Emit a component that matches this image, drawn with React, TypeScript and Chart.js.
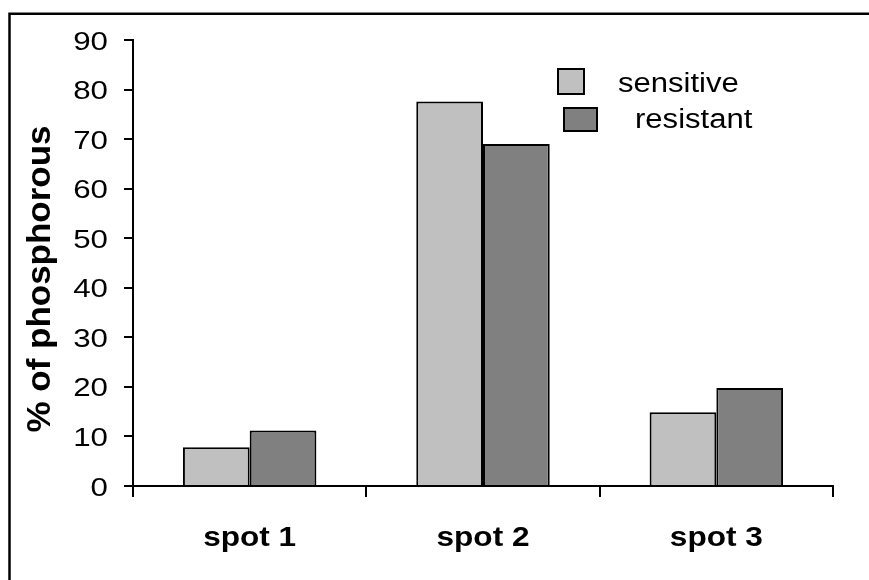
import React, { useEffect, useRef } from "react";
import { Chart, registerables } from "chart.js";

Chart.register(...registerables);

const categories = ["spot 1", "spot 2", "spot 3"];
const seriesNames = ["sensitive", "resistant"];
const sensitive = [7.8, 77.6, 14.9];
const resistant = [11.2, 69.0, 19.8];
const yMin = 0;
const yMax = 90;
const yStep = 10;

const FAMILY = "'Liberation Sans', Arial, Helvetica, sans-serif";
const LIGHT = "#C0C0C0";
const DARK = "#808080";

function drawText(
  ctx: CanvasRenderingContext2D,
  text: string,
  x: number,
  y: number,
  font: string,
  sx: number,
  align: CanvasTextAlign,
  baseline: CanvasTextBaseline,
  rot = 0
) {
  ctx.save();
  ctx.translate(x, y);
  if (rot) ctx.rotate(rot);
  ctx.scale(sx, 1);
  ctx.font = font;
  ctx.fillStyle = "#000";
  ctx.textAlign = align;
  ctx.textBaseline = baseline;
  ctx.fillText(text, 0, 0);
  ctx.restore();
}

const decorPlugin = {
  id: "decor",
  beforeDraw(chart: any) {
    const ctx = chart.ctx as CanvasRenderingContext2D;
    ctx.save();
    ctx.fillStyle = "#fff";
    ctx.fillRect(0, 0, chart.width, chart.height);
    ctx.strokeStyle = "#000";
    ctx.lineWidth = 2.5;
    ctx.beginPath();
    ctx.moveTo(9.5, chart.height + 2);
    ctx.lineTo(9.5, 13.8);
    ctx.lineTo(chart.width + 2, 13.8);
    ctx.stroke();
    ctx.restore();
  },
  afterDraw(chart: any) {
    const ctx = chart.ctx as CanvasRenderingContext2D;
    const ys = chart.scales.y;
    const xs = chart.scales.x;
    // y tick labels
    ys.ticks.forEach((t: any) => {
      const py = ys.getPixelForValue(t.value);
      drawText(ctx, String(t.value), 108, py + 9.5, `26.5px ${FAMILY}`, 1.18, "right", "alphabetic");
    });
    // x labels
    categories.forEach((c, i) => {
      const px = xs.getPixelForValue(i);
      drawText(ctx, c, px, 546, `bold 27px ${FAMILY}`, 1.17, "center", "alphabetic");
    });
    // y title
    drawText(ctx, "% of phosphorous", 41, 279, `bold 33px ${FAMILY}`, 1.06, "center", "middle", -Math.PI / 2);
    // legend
    ctx.save();
    ctx.lineWidth = 2;
    ctx.strokeStyle = "#000";
    ctx.fillStyle = LIGHT;
    ctx.fillRect(558, 69, 26, 25);
    ctx.strokeRect(558, 69, 26, 25);
    ctx.fillStyle = DARK;
    ctx.fillRect(564, 108, 33, 23);
    ctx.strokeRect(564, 108, 33, 23);
    ctx.restore();
    drawText(ctx, seriesNames[0], 618, 92, `27px ${FAMILY}`, 1.15, "left", "alphabetic");
    drawText(ctx, seriesNames[1], 635, 128, `27px ${FAMILY}`, 1.15, "left", "alphabetic");
  },
};

export default function App() {
  const ref = useRef<HTMLCanvasElement | null>(null);
  useEffect(() => {
    if (!ref.current) return;
    const chart = new Chart(ref.current, {
      type: "bar",
      data: {
        labels: categories,
        datasets: [
          {
            label: seriesNames[0],
            data: sensitive,
            backgroundColor: LIGHT,
            borderColor: "#000",
            borderWidth: 2,
          },
          {
            label: seriesNames[1],
            data: resistant,
            backgroundColor: DARK,
            borderColor: "#000",
            borderWidth: 2,
          },
        ],
      },
      options: {
        animation: false,
        responsive: false,
        devicePixelRatio: 1,
        layout: { padding: { top: 40, right: 36, left: 0, bottom: 0 } },
        datasets: { bar: { categoryPercentage: 0.572, barPercentage: 1 } },
        plugins: { legend: { display: false }, tooltip: { enabled: false } },
        scales: {
          x: {
            offset: true,
            grid: {
              offset: true,
              drawOnChartArea: false,
              drawTicks: true,
              tickLength: 11,
              lineWidth: 2,
              color: "#000",
            },
            border: { display: true, color: "#000", width: 2 },
            ticks: { color: "transparent", font: { size: 26 } },
            afterFit: (s: any) => {
              s.height = 94;
            },
          },
          y: {
            min: yMin,
            max: yMax,
            ticks: { stepSize: yStep, color: "transparent", font: { size: 25 } },
            grid: {
              drawOnChartArea: false,
              drawTicks: true,
              tickLength: 9,
              lineWidth: 2,
              color: "#000",
            },
            border: { display: true, color: "#000", width: 2 },
            afterFit: (s: any) => {
              s.width = 133;
            },
          },
        },
      },
      plugins: [decorPlugin],
    } as any);
    return () => chart.destroy();
  }, []);
  return (
    <div style={{ position: "absolute", left: 0, top: 0, width: 869, height: 580, background: "#fff" }}>
      <canvas ref={ref} width={869} height={580} style={{ display: "block" }} />
    </div>
  );
}
